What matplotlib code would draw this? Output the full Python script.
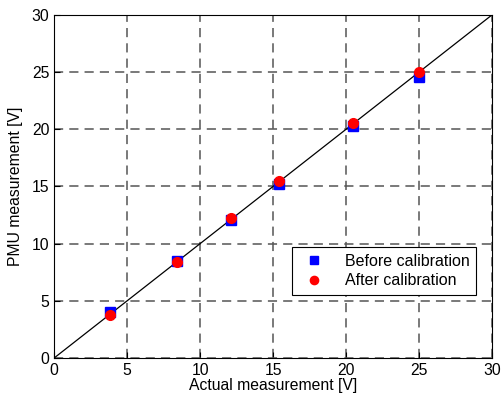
import numpy as np
import matplotlib
matplotlib.use("Agg")
import matplotlib.pyplot as plt

plt.rcParams['font.family'] = ['Liberation Sans', 'DejaVu Sans']

actual = [3.8, 8.4, 12.1, 15.4, 20.5, 25.0]
before = [4.05, 8.5, 12.1, 15.25, 20.25, 24.55]
after = [3.78, 8.35, 12.2, 15.45, 20.55, 25.0]

fig = plt.figure(figsize=(5.02, 4.04), dpi=100)
ax = fig.add_axes([0.108, 0.114, 0.872, 0.849])

ax.plot([0, 30], [0, 30], color="black", lw=0.9)
ax.plot(actual, before, "s", color="#0000ff", ms=6.5, label="Before calibration")
ax.plot(actual, after, "o", color="#ff0000", ms=7, label="After calibration")

ax.set_xlim(0, 30)
ax.set_ylim(0, 30)
ax.set_xticks(range(0, 31, 5))
ax.set_yticks(range(0, 31, 5))
ax.grid(True, color="#555555", linestyle=(0, (6, 4)), lw=1.1)
ax.tick_params(direction="in", labelsize=11.3, length=4)
ax.set_xlabel("Actual measurement [V]", fontsize=11.3, labelpad=0)
ax.set_ylabel("PMU measurement [V]", fontsize=11.3, labelpad=6)
for s in ax.spines.values():
    s.set_linewidth(0.8)

leg = ax.legend(loc="lower right", bbox_to_anchor=(0.9635, 0.184), fontsize=11.5,
                borderaxespad=0, fancybox=False, framealpha=1, edgecolor="black",
                handlelength=2.0, borderpad=0.4, labelspacing=0.3, handletextpad=0.9,
                markerscale=0.85)
leg.get_frame().set_linewidth(0.8)

fig.savefig("out.png", dpi=100)
